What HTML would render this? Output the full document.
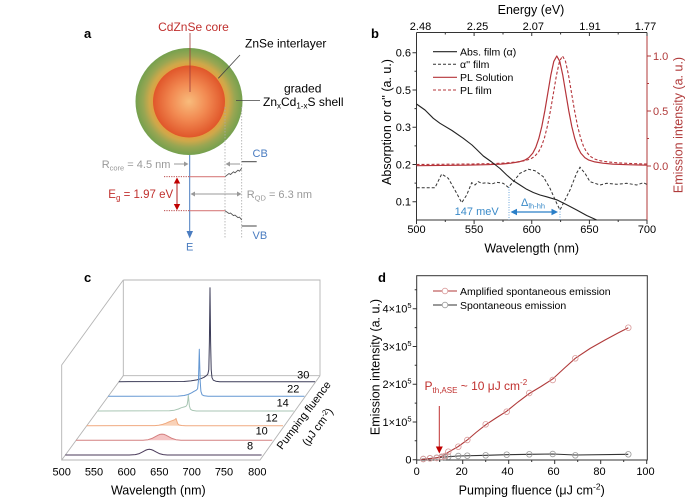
<!DOCTYPE html>
<html><head><meta charset="utf-8"><style>
html,body{margin:0;padding:0;background:#fff;}
svg{display:block;}
text{font-family:"Liberation Sans",Arial,sans-serif;}
</style></head><body>
<svg width="700" height="504" viewBox="0 0 700 504" xmlns="http://www.w3.org/2000/svg">
<defs>
<radialGradient id="gOut" gradientUnits="userSpaceOnUse" cx="189" cy="101.5" r="53.5">
<stop offset="0" stop-color="#e8a040"/>
<stop offset="0.66" stop-color="#e2a040"/>
<stop offset="0.74" stop-color="#cfa84a"/>
<stop offset="0.86" stop-color="#98a652"/>
<stop offset="1" stop-color="#74a04e"/>
</radialGradient>
<radialGradient id="gIn" gradientUnits="userSpaceOnUse" cx="189" cy="101.5" r="36">
<stop offset="0" stop-color="#f8bc7c"/>
<stop offset="0.5" stop-color="#f28a52"/>
<stop offset="1" stop-color="#e0562a"/>
</radialGradient>
</defs>

<!-- ================= PANEL A ================= -->
<text x="84" y="38" font-size="13" font-weight="bold">a</text>
<text x="193.5" y="31" font-size="12" fill="#c0302e" text-anchor="middle">CdZnSe core</text>
<circle cx="189" cy="101.5" r="53.5" fill="url(#gOut)"/>
<circle cx="189" cy="101.5" r="36" fill="url(#gIn)"/>
<line x1="190" y1="33" x2="190" y2="92" stroke="#a03a3a" stroke-width="0.8"/>
<text x="245" y="47.5" font-size="12">ZnSe interlayer</text>
<line x1="240" y1="55" x2="218.3" y2="78.3" stroke="#444" stroke-width="0.8"/>
<text x="302.7" y="92.5" font-size="12" text-anchor="middle">graded</text>
<text x="263" y="106" font-size="12">Zn<tspan font-size="8" dy="2.5">x</tspan><tspan dy="-2.5">Cd</tspan><tspan font-size="8" dy="2.5">1-x</tspan><tspan dy="-2.5">S shell</tspan></text>
<line x1="236" y1="100.5" x2="260" y2="100.5" stroke="#444" stroke-width="0.8"/>

<!-- dotted verticals -->
<line x1="225" y1="107" x2="225" y2="238" stroke="#aaa" stroke-width="0.8" stroke-dasharray="1.5,1.5"/>
<line x1="241.7" y1="107" x2="241.7" y2="238" stroke="#aaa" stroke-width="0.8" stroke-dasharray="1.5,1.5"/>
<!-- E axis -->
<line x1="189.7" y1="155" x2="189.7" y2="232" stroke="#4a7cc0" stroke-width="1"/>
<polygon points="186.5,231 193,231 189.7,238.5" fill="#4a7cc0"/>
<text x="189.7" y="250.5" font-size="11" fill="#4a7cc0" text-anchor="middle">E</text>
<!-- Rcore -->
<text x="101.7" y="168" font-size="11" fill="#999">R<tspan font-size="7.5" dy="2.5">core</tspan><tspan dy="-2.5"> = 4.5 nm</tspan></text>
<line x1="174" y1="164" x2="185" y2="164" stroke="#999" stroke-width="1"/>
<polygon points="184,161.5 188.5,164 184,166.5" fill="#999"/>
<line x1="240" y1="164" x2="229" y2="164" stroke="#999" stroke-width="1"/>
<polygon points="230,161.5 225.5,164 230,166.5" fill="#999"/>
<!-- CB / VB -->
<line x1="241.7" y1="161.7" x2="256.7" y2="161.7" stroke="#444" stroke-width="1"/>
<text x="252.5" y="157" font-size="11" fill="#4a7cc0">CB</text>
<polyline points="225,176.7 229,173.5 230.5,174.5 233.5,171.8 235,172.8 238,170.2 239.5,171.2 241.7,168.3" fill="none" stroke="#555" stroke-width="0.9"/>
<line x1="241.7" y1="226" x2="256.7" y2="226" stroke="#444" stroke-width="1"/>
<text x="252.5" y="239" font-size="11" fill="#4a7cc0">VB</text>
<polyline points="225,210.7 229,213.5 230.5,213 233.5,215.6 235,215.1 238,217.6 239.5,217.1 241.7,220" fill="none" stroke="#555" stroke-width="0.9"/>
<!-- energy levels -->
<line x1="164" y1="176.7" x2="189.7" y2="176.7" stroke="#b03030" stroke-width="0.8" stroke-dasharray="1.2,1.2"/>
<line x1="189.7" y1="176.7" x2="225" y2="176.7" stroke="#d88080" stroke-width="1.2"/>
<line x1="164" y1="210.7" x2="189.7" y2="210.7" stroke="#b03030" stroke-width="0.8" stroke-dasharray="1.2,1.2"/>
<line x1="189.7" y1="210.7" x2="225" y2="210.7" stroke="#d88080" stroke-width="1.2"/>
<line x1="177" y1="183" x2="177" y2="205" stroke="#b02020" stroke-width="1"/>
<polygon points="173.8,183.5 180.2,183.5 177,177.5" fill="#c00000"/>
<polygon points="173.8,204 180.2,204 177,210.2" fill="#c00000"/>
<text x="108.3" y="198" font-size="11.5" fill="#c0302e">E<tspan font-size="8" dy="2.5">g</tspan><tspan dy="-2.5"> = 1.97 eV</tspan></text>
<line x1="194" y1="194" x2="238" y2="194" stroke="#999" stroke-width="1"/>
<polygon points="195,191.5 190.5,194 195,196.5" fill="#999"/>
<polygon points="237,191.5 241.5,194 237,196.5" fill="#999"/>
<text x="246.7" y="198" font-size="11" fill="#999">R<tspan font-size="7.5" dy="2.5">QD</tspan><tspan dy="-2.5"> = 6.3 nm</tspan></text>

<!-- ================= PANEL B ================= -->
<text x="371" y="38" font-size="13" font-weight="bold">b</text>
<text x="531" y="14" font-size="12.5" text-anchor="middle">Energy (eV)</text>
<g font-size="11" text-anchor="middle">
<text x="420.5" y="30">2.48</text>
<text x="477.5" y="30">2.25</text>
<text x="533.3" y="30">2.07</text>
<text x="590" y="30">1.91</text>
<text x="645.5" y="30">1.77</text>
</g>
<!-- frame -->
<line x1="416.5" y1="32.5" x2="647" y2="32.5" stroke="#333" stroke-width="1"/>
<line x1="416.5" y1="32.5" x2="416.5" y2="220" stroke="#333" stroke-width="1"/>
<line x1="416.5" y1="220" x2="647" y2="220" stroke="#333" stroke-width="1"/>
<line x1="647" y1="32.5" x2="647" y2="220" stroke="#b03a3a" stroke-width="1"/>
<g stroke="#333" stroke-width="1">
<path d="M416.5,220v4M474.1,220v4M531.75,220v4M589.4,220v4M647,220v4M445.3,220v2M503,220v2M560.6,220v2M618.2,220v2"/>
<path d="M416.5,32.5v3.5M474.1,32.5v3.5M531.75,32.5v3.5M589.4,32.5v3.5M647,32.5v3.5M445.3,32.5v2M503,32.5v2M560.6,32.5v2M618.2,32.5v2"/>
<path d="M416.5,52.7h-4M416.5,90h-4M416.5,127.2h-4M416.5,164.5h-4M416.5,201.7h-4M416.5,71.3h-2M416.5,108.6h-2M416.5,145.9h-2M416.5,183.1h-2"/>
</g>
<path d="M647,56h4M647,111h4M647,166h4M647,83.5h2M647,138.5h2" stroke="#b03a3a" stroke-width="1"/>
<g font-size="11" text-anchor="end">
<text x="411" y="56.7">0.6</text>
<text x="411" y="94">0.5</text>
<text x="411" y="131.2">0.3</text>
<text x="411" y="168.5">0.2</text>
<text x="411" y="205.7">0.1</text>
</g>
<g font-size="11" fill="#b03a3a">
<text x="653" y="60">1.0</text>
<text x="653" y="115">0.5</text>
<text x="653" y="170">0.0</text>
</g>
<g font-size="11" text-anchor="middle">
<text x="416.5" y="233">500</text>
<text x="474.1" y="233">550</text>
<text x="531.75" y="233">600</text>
<text x="589.4" y="233">650</text>
<text x="647" y="233">700</text>
</g>
<text x="531.7" y="252.5" font-size="12.5" text-anchor="middle">Wavelength (nm)</text>
<text transform="translate(391,122) rotate(-90)" font-size="12.5" text-anchor="middle">Absorption or α'' (a. u.)</text>
<text transform="translate(682.5,125) rotate(-90)" font-size="12.5" text-anchor="middle" fill="#b03a3a">Emission intensity (a. u.)</text>

<!-- curves b -->
<path d="M416.5,165.7 L466.8,165.2 L486.8,164.7 L500.8,164.1 L510.8,163.2 L518.8,161.9 L524.8,160.1 L528.8,157.6 L532.8,153.1 L535.8,147.3 L538.8,138.6 L541.8,126.5 L544.8,111 L547.8,93.2 L550.8,75.3 L553.8,61.4 L556.8,56 L559.8,61.4 L562.8,75.3 L565.8,93.2 L568.8,111 L571.8,126.5 L574.8,138.6 L577.8,147.3 L580.8,153.1 L584.8,157.6 L588.8,160.1 L594.8,161.9 L602.8,163.2 L612.8,164.1 L626.8,164.7 L646.8,165.2" fill="none" stroke="#b5343a" stroke-width="1.2" stroke-linejoin="round"/>
<path d="M416.5,164.5 L472.5,164 L492.5,163.6 L506.5,162.9 L516.5,162 L524.5,160.8 L530.5,159 L534.5,156.5 L538.5,152 L541.5,146.3 L544.5,137.7 L547.5,125.7 L550.5,110.4 L553.5,92.8 L556.5,75 L559.5,61.3 L562.5,56 L565.5,61.3 L568.5,75 L571.5,92.8 L574.5,110.4 L577.5,125.7 L580.5,137.7 L583.5,146.3 L586.5,152 L590.5,156.5 L594.5,159 L600.5,160.8 L608.5,162 L618.5,162.9 L632.5,163.6 L647,164" fill="none" stroke="#b5343a" stroke-width="1.1" stroke-dasharray="3,2"/>
<path d="M416.5,104 L425,110 L433.3,118.3 L440,123.3 L452,130.5 L463.3,138.3 L472,145 L476.7,149.5 L483.3,156 L491.7,162 L500,168.5 L506.7,175 L513,180.5 L520,185 L526.7,189.3 L533.3,192.5 L540,195 L546.7,196.8 L556.7,199.8 L566.7,204.8 L576.7,210 L586.7,215.5 L596.7,220" fill="none" stroke="#222" stroke-width="1.1" stroke-linejoin="round"/>
<path d="M416.7,187.7 L435,187.7 L441.7,174 L448.3,178.3 L456.7,193.3 L461.7,202.7 L466.7,195 L471.7,182.7 L475,185 L478.3,181.7 L481.7,183.3 L486.7,182.7 L491.7,184 L496.7,182.3 L503.3,183.3 L508.3,187.3 L513.3,181.7 L520,173.3 L528.3,169.3 L535,170.7 L543.3,176.7 L550,188.3 L556.7,203.3 L560,210 L563.3,203.3 L570,190 L576.7,173 L580,167.3 L585,173.3 L590,181.7 L600,185 L606.7,183.3 L616.7,184.3 L626.7,183.3 L636.7,185 L643.3,182.7 L646.7,184.3" fill="none" stroke="#333" stroke-width="1" stroke-dasharray="3,2"/>
<!-- annotation -->
<line x1="509" y1="187" x2="509" y2="220" stroke="#5a9bd5" stroke-width="0.9" stroke-dasharray="1,1.5"/>
<line x1="560" y1="209" x2="560" y2="220" stroke="#5a9bd5" stroke-width="0.9" stroke-dasharray="1,1.5"/>
<line x1="515" y1="212" x2="553" y2="212" stroke="#2a7fc8" stroke-width="1.2"/>
<polygon points="517,208.8 510.5,212 517,215.2" fill="#2a7fc8"/>
<polygon points="551.5,208.8 558,212 551.5,215.2" fill="#2a7fc8"/>
<text x="476.7" y="215" font-size="11" fill="#3a8ac8" text-anchor="middle">147 meV</text>
<text x="521" y="206" font-size="11" fill="#3a8ac8">Δ<tspan font-size="7.5" dy="2.5">lh-hh</tspan></text>
<!-- legend b -->
<line x1="433" y1="51.7" x2="457" y2="51.7" stroke="#222" stroke-width="1.1"/>
<line x1="433" y1="64.3" x2="457" y2="64.3" stroke="#333" stroke-width="1" stroke-dasharray="3,2"/>
<line x1="433" y1="77.3" x2="457" y2="77.3" stroke="#b5343a" stroke-width="1.2"/>
<line x1="433" y1="90" x2="457" y2="90" stroke="#b5343a" stroke-width="1.1" stroke-dasharray="3,2"/>
<g font-size="10.5">
<text x="460" y="55.5">Abs. film (α)</text>
<text x="460" y="68">α'' film</text>
<text x="460" y="81">PL Solution</text>
<text x="460" y="93.8">PL film</text>
</g>

<!-- ================= PANEL C ================= -->
<text x="84" y="282" font-size="13" font-weight="bold">c</text>
<g fill="none" stroke="#b4b4b4" stroke-width="0.9">
<path d="M123.3,280 H320 V375.7 M123.3,280 V375.7 H320"/>
<path d="M123.3,280 L61.7,365 V460 H260 L320,375.7 M61.7,460 L123.3,375.7"/>
</g>
<!-- rows back to front -->
<g fill="none" stroke-width="1" stroke-linejoin="round">
<path d="M118.8,381.7 L183.8,381.5 L190.8,380.9 L196.8,379.9 L200.8,378.7 L203.8,377.4 L206.3,375.7 L207.8,374.2 L208.8,369.7 L209.4,341.7 L210,287.7 L210.6,341.7 L211.2,369.7 L212,377.7 L213.3,380.2 L215.8,381.2 L219.8,381.7 L315.1,381.7" stroke="#3c3c58"/>
<path d="M108.1,396.3 L178.1,396.1 L184.1,395.5 L188.1,394.5 L191.6,392.8 L194.1,391.3 L196.1,390.3 L197.6,388.8 L198.4,381.3 L198.9,364.3 L199.3,349.3 L199.7,364.3 L200.2,381.3 L200.9,391.3 L202.1,394.8 L204.1,395.8 L208.1,396.3 L304.4,396.3" stroke="#6497d2"/>
<path d="M97.4,411 L169.4,410.8 L174.4,410.2 L178.4,409 L181.4,407.7 L183.9,407 L185.9,406.4 L187.2,404.5 L187.9,400 L188.3,395.3 L188.8,400 L189.4,406 L190.4,409.2 L192.4,410.4 L196.4,411 L293.7,411" stroke="#a9c6b4"/>
<path d="M154.7,425.6 L158.7,425.2 L162.7,424.4 L165.7,423.3 L168.7,422 L171.7,420.8 L173.7,420.1 L175.2,419.4 L176,418.4 L176.7,420.7 L177.7,423.7 L179.2,425 L181.7,425.5 L185.7,425.7 Z" fill="#f9d2b8" stroke="none"/>
<path d="M86.7,425.7 L154.7,425.6 L158.7,425.2 L162.7,424.4 L165.7,423.3 L168.7,422 L171.7,420.8 L173.7,420.1 L175.2,419.4 L176,418.4 L176.7,420.7 L177.7,423.7 L179.2,425 L181.7,425.5 L185.7,425.7 L283,425.7" stroke="#f0aa80"/>
<path d="M143,440.2 L148,439.7 L152,438.4 L155,436.8 L158,435.2 L160,434.4 L162,434.1 L164,434.4 L166,435.2 L169,436.8 L172,438.4 L176,439.7 L181,440.3 Z" fill="#f5c4c4" stroke="none"/>
<path d="M76,440.3 L143,440.2 L148,439.7 L152,438.4 L155,436.8 L158,435.2 L160,434.4 L162,434.1 L164,434.4 L166,435.2 L169,436.8 L172,438.4 L176,439.7 L181,440.3 L272.3,440.3" stroke="#d48080"/>
<path d="M65.3,455 L129.3,455 L135.3,454.6 L139.3,453.6 L142.3,452.1 L145.3,450.4 L147.3,449.6 L149.3,449.3 L151.3,449.6 L153.3,450.4 L156.3,452.1 L159.3,453.6 L163.3,454.6 L167.3,455 L261.6,455" stroke="#4a3a5a"/>
</g>
<g font-size="11" text-anchor="middle">
<text x="303.3" y="378.3">30</text>
<text x="293.3" y="392.3">22</text>
<text x="282.7" y="406.7">14</text>
<text x="271.7" y="421.3">12</text>
<text x="261.7" y="434.7">10</text>
<text x="250" y="449.7">8</text>
</g>
<g font-size="11" text-anchor="middle">
<text x="61.7" y="475.7">500</text>
<text x="94" y="475.7">550</text>
<text x="126.7" y="475.7">600</text>
<text x="159.3" y="475.7">650</text>
<text x="191.7" y="475.7">700</text>
<text x="224" y="475.7">750</text>
<text x="257.3" y="475.7">800</text>
</g>
<text x="158.3" y="494.5" font-size="12.5" text-anchor="middle">Wavelength (nm)</text>
<text transform="translate(306.7,417.5) rotate(-53)" font-size="11" text-anchor="middle">Pumping fluence</text>
<text transform="translate(320.5,429) rotate(-53)" font-size="11" text-anchor="middle">(μJ cm<tspan font-size="7.5" dy="-4">-2</tspan><tspan dy="4">)</tspan></text>

<!-- ================= PANEL D ================= -->
<text x="378" y="282" font-size="13" font-weight="bold">d</text>
<rect x="416.7" y="275.7" width="230.6" height="184.3" fill="none" stroke="#333" stroke-width="1"/>
<g stroke="#333" stroke-width="1">
<path d="M416.7,460v4M462.7,460v4M508.7,460v4M554.7,460v4M600.7,460v4M646.7,460v4M439.7,460v2M485.7,460v2M531.7,460v2M577.7,460v2M623.7,460v2"/>
<path d="M416.7,459.7h-4M416.7,421.95h-4M416.7,384.2h-4M416.7,346.45h-4M416.7,308.7h-4M416.7,440.8h-2M416.7,403.1h-2M416.7,365.3h-2M416.7,327.6h-2M416.7,289.8h-2"/>
</g>
<g font-size="11" text-anchor="middle">
<text x="416.7" y="475">0</text>
<text x="461.7" y="475">20</text>
<text x="507.5" y="475">40</text>
<text x="553.5" y="475">60</text>
<text x="599.5" y="475">80</text>
<text x="645.5" y="475">100</text>
</g>
<g font-size="11" text-anchor="end">
<text x="411.5" y="463.7">0</text>
<text x="411.5" y="426">1×10<tspan font-size="7.5" dy="-4.5">5</tspan></text>
<text x="411.5" y="388.2">2×10<tspan font-size="7.5" dy="-4.5">5</tspan></text>
<text x="411.5" y="350.5">3×10<tspan font-size="7.5" dy="-4.5">5</tspan></text>
<text x="411.5" y="312.7">4×10<tspan font-size="7.5" dy="-4.5">5</tspan></text>
</g>
<text x="531.7" y="494.5" font-size="12.5" text-anchor="middle">Pumping fluence (μJ cm<tspan font-size="8.5" dy="-5">-2</tspan><tspan dy="5">)</tspan></text>
<text transform="translate(379.5,367) rotate(-90)" font-size="12.5" text-anchor="middle">Emission intensity (a. u.)</text>
<!-- data -->
<path d="M421.5,459.3 L430,458.5 L441.7,457.2 L458.3,456 L485.7,455.3 L506.7,454.7 L529.3,454.3 L552.7,454 L575.3,455 L628.3,454.3" fill="none" stroke="#333" stroke-width="1.1"/>
<path d="M421.5,459.5 L430,458.6 L436.7,457.9 L441.7,456.3 L445,454.5 L448.3,452.2 L458.3,446.5 L467.3,440 L476,432.5 L485.7,424.8 L496,418 L506.7,411.2 L518,402 L529.3,393.5 L541,386.5 L552.7,379 L564,368.5 L575.3,358.3 L590,348.5 L605,340 L618,333 L628.3,327.7" fill="none" stroke="#b03a3a" stroke-width="1.1"/>
<g fill="none" stroke="#999" stroke-width="0.8">
<circle cx="423.3" cy="459" r="2.8"/><circle cx="430" cy="458.3" r="2.8"/><circle cx="436.7" cy="457.7" r="2.8"/><circle cx="441.7" cy="457.3" r="2.8"/><circle cx="445" cy="457" r="2.8"/><circle cx="448.3" cy="456.7" r="2.8"/><circle cx="458.3" cy="456" r="2.8"/><circle cx="467.3" cy="455.7" r="2.8"/><circle cx="485.7" cy="455.3" r="2.8"/><circle cx="506.7" cy="454.7" r="2.8"/><circle cx="529.3" cy="454.3" r="2.8"/><circle cx="552.7" cy="454" r="2.8"/><circle cx="575.3" cy="455.3" r="2.8"/><circle cx="628.3" cy="454.3" r="2.8"/>
</g>
<g fill="none" stroke="#d99a9a" stroke-width="0.8">
<circle cx="423.3" cy="459" r="2.8"/><circle cx="430" cy="458.3" r="2.8"/><circle cx="436.7" cy="458" r="2.8"/><circle cx="441.7" cy="456.7" r="2.8"/><circle cx="445" cy="456" r="2.8"/><circle cx="448.3" cy="451.7" r="2.8"/><circle cx="458.3" cy="446.7" r="2.8"/><circle cx="467.3" cy="440" r="2.8"/><circle cx="485.7" cy="424.3" r="2.8"/><circle cx="506.7" cy="411.7" r="2.8"/><circle cx="529.3" cy="393" r="2.8"/><circle cx="552.7" cy="380" r="2.8"/><circle cx="575.3" cy="358.3" r="2.8"/><circle cx="628.3" cy="327.7" r="2.8"/>
</g>
<!-- threshold annotation -->
<line x1="439.3" y1="406" x2="439.3" y2="447" stroke="#c03030" stroke-width="1"/>
<polygon points="435.8,446.5 442.8,446.5 439.3,453.5" fill="#c00000"/>
<text x="424.5" y="390" font-size="12" fill="#c0302e">P<tspan font-size="8" dy="3">th,ASE</tspan><tspan dy="-3"> ~ 10 μJ cm</tspan><tspan font-size="8" dy="-5">-2</tspan></text>
<!-- legend d -->
<line x1="433" y1="291" x2="457" y2="291" stroke="#b03a3a" stroke-width="1.1"/>
<circle cx="445" cy="291" r="2.8" fill="#fff" stroke="#d99a9a" stroke-width="0.8"/>
<line x1="433" y1="305" x2="457" y2="305" stroke="#333" stroke-width="1.1"/>
<circle cx="445" cy="305" r="2.8" fill="#fff" stroke="#999" stroke-width="0.8"/>
<g font-size="10.5">
<text x="460" y="294.8">Amplified spontaneous emission</text>
<text x="460" y="308.8">Spontaneous emission</text>
</g>
</svg>
</body></html>
